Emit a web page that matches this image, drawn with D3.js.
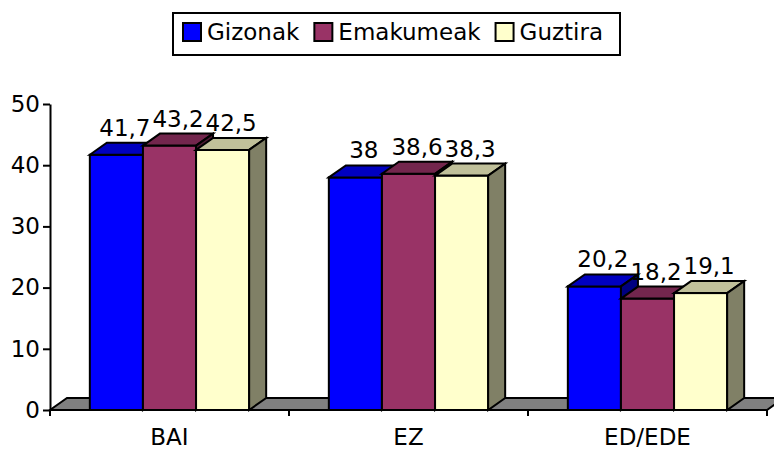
<!DOCTYPE html>
<html lang="eu">
<head>
<meta charset="utf-8">
<title>Gizonak / Emakumeak / Guztira</title>
<style>
  body { margin: 0; background: #fff; }
  svg { display: block; font-family: "DejaVu Sans", Verdana, sans-serif; }
  .face { stroke: #000; stroke-width: 2; stroke-linejoin: miter; }
  .lbl { font-size: 23px; fill: #000; }
</style>
</head>
<body>
<svg width="774" height="454"></svg>
<script src="https://d3js.org/d3.v7.min.js"></script>
<script>
// data
var categories = ["BAI", "EZ", "ED/EDE"];
var seriesNames = ["Gizonak", "Emakumeak", "Guztira"];
var gizonak   = [41.7, 38, 20.2];
var emakumeak = [43.2, 38.6, 18.2];
var guztira   = [42.5, 38.3, 19.1];
var yTicks = [0, 10, 20, 30, 40, 50];

var values = [gizonak, emakumeak, guztira];
// front, top, side colours for each series
var colors = [
  ["#0000ff", "#0000c0", "#000080"],
  ["#993366", "#73264d", "#4d1a33"],
  ["#ffffcc", "#c0c09a", "#808066"]
];

var svg = d3.select("svg");
var plotLeft = 50, plotRight = 767, plotTop = 104, plotBottom = 410;
var dx = 17, dy = -12; // 3d depth offset

var y = d3.scaleLinear().domain([0, 50]).range([plotBottom, plotTop]);
var x = d3.scaleBand().domain(categories).range([plotLeft, plotRight]).padding(0);
// excel style: gap width 150% of bar width -> bars centered in the band
var gap = x.bandwidth() * 1.5 / 4.5;
var xs = d3.scaleBand().domain(seriesNames).range([gap / 2, x.bandwidth() - gap / 2]).padding(0);

var fmt = function(v) { return String(v).replace(".", ","); };

// floor
svg.append("path")
  .attr("class", "face")
  .attr("fill", "#808080")
  .attr("d", "M" + plotLeft + "," + plotBottom + "L" + (plotLeft + dx) + "," + (plotBottom + dy) +
             "L" + (plotRight + dx) + "," + (plotBottom + dy) + "L" + plotRight + "," + plotBottom + "Z");

// y axis
var yAxis = d3.axisLeft(y).tickValues(yTicks).tickSize(7).tickSizeOuter(0).tickPadding(3);
var gy = svg.append("g").attr("transform", "translate(" + plotLeft + ",0)").call(yAxis);
gy.attr("font-family", null).attr("font-size", null);
gy.select(".domain").attr("stroke-width", 2);
gy.selectAll(".tick line").attr("stroke-width", 2);
gy.selectAll(".tick text").attr("class", "lbl");

// bars
categories.forEach(function(c, ci) {
  seriesNames.forEach(function(s, si) {
    var v = values[si][ci];
    var x0 = x(c) + xs(s), x1 = x0 + xs.bandwidth();
    var yt = y(v), yb = y(0);
    var g = svg.append("g");
    g.append("rect").attr("class", "face")
      .attr("x", x0).attr("y", yt).attr("width", x1 - x0).attr("height", yb - yt)
      .attr("fill", colors[si][0]);
    g.append("path").attr("class", "face")
      .attr("fill", colors[si][1])
      .attr("d", "M" + x0 + "," + yt + "L" + (x0 + dx) + "," + (yt + dy) +
                 "L" + (x1 + dx) + "," + (yt + dy) + "L" + x1 + "," + yt + "Z");
    g.append("path").attr("class", "face")
      .attr("fill", colors[si][2])
      .attr("d", "M" + x1 + "," + yt + "L" + (x1 + dx) + "," + (yt + dy) +
                 "L" + (x1 + dx) + "," + (yb + dy) + "L" + x1 + "," + yb + "Z");
  });
});

// value labels
categories.forEach(function(c, ci) {
  seriesNames.forEach(function(s, si) {
    var v = values[si][ci];
    svg.append("text").attr("class", "lbl")
      .attr("x", x(c) + xs(s) + xs.bandwidth() / 2 + dx / 2)
      .attr("y", y(v) + dy - 7)
      .attr("text-anchor", "middle")
      .text(fmt(v));
  });
});

// x axis line + ticks at category boundaries
svg.append("line").attr("x1", plotLeft).attr("x2", plotRight).attr("y1", plotBottom).attr("y2", plotBottom)
  .attr("stroke", "#000").attr("stroke-width", 2);
var bounds = categories.map(function(c) { return x(c); }).concat([plotRight]);
svg.selectAll(".xtick").data(bounds).enter().append("line")
  .attr("x1", function(d) { return d; }).attr("x2", function(d) { return d; })
  .attr("y1", plotBottom).attr("y2", plotBottom + 6)
  .attr("stroke", "#000").attr("stroke-width", 2);
svg.selectAll(".xlab").data(categories).enter().append("text")
  .attr("class", "lbl")
  .attr("x", function(d) { return x(d) + x.bandwidth() / 2; })
  .attr("y", 445)
  .attr("text-anchor", "middle")
  .text(function(d) { return d; });

// legend
var lg = svg.append("g");
var box = lg.append("rect").attr("y", 13).attr("height", 42)
  .attr("fill", "#fff").attr("stroke", "#000").attr("stroke-width", 2);
var lx = 183;
seriesNames.forEach(function(s, si) {
  lg.append("rect").attr("x", lx).attr("y", 23).attr("width", 18).attr("height", 18)
    .attr("fill", colors[si][0]).attr("stroke", "#000").attr("stroke-width", 2);
  var t = lg.append("text").attr("class", "lbl").attr("x", lx + 24).attr("y", 40).text(s);
  lx = lx + 24 + t.node().getComputedTextLength() + 15;
});
box.attr("x", 173).attr("width", lx - 15 + 17 - 173);
</script>
</body>
</html>
